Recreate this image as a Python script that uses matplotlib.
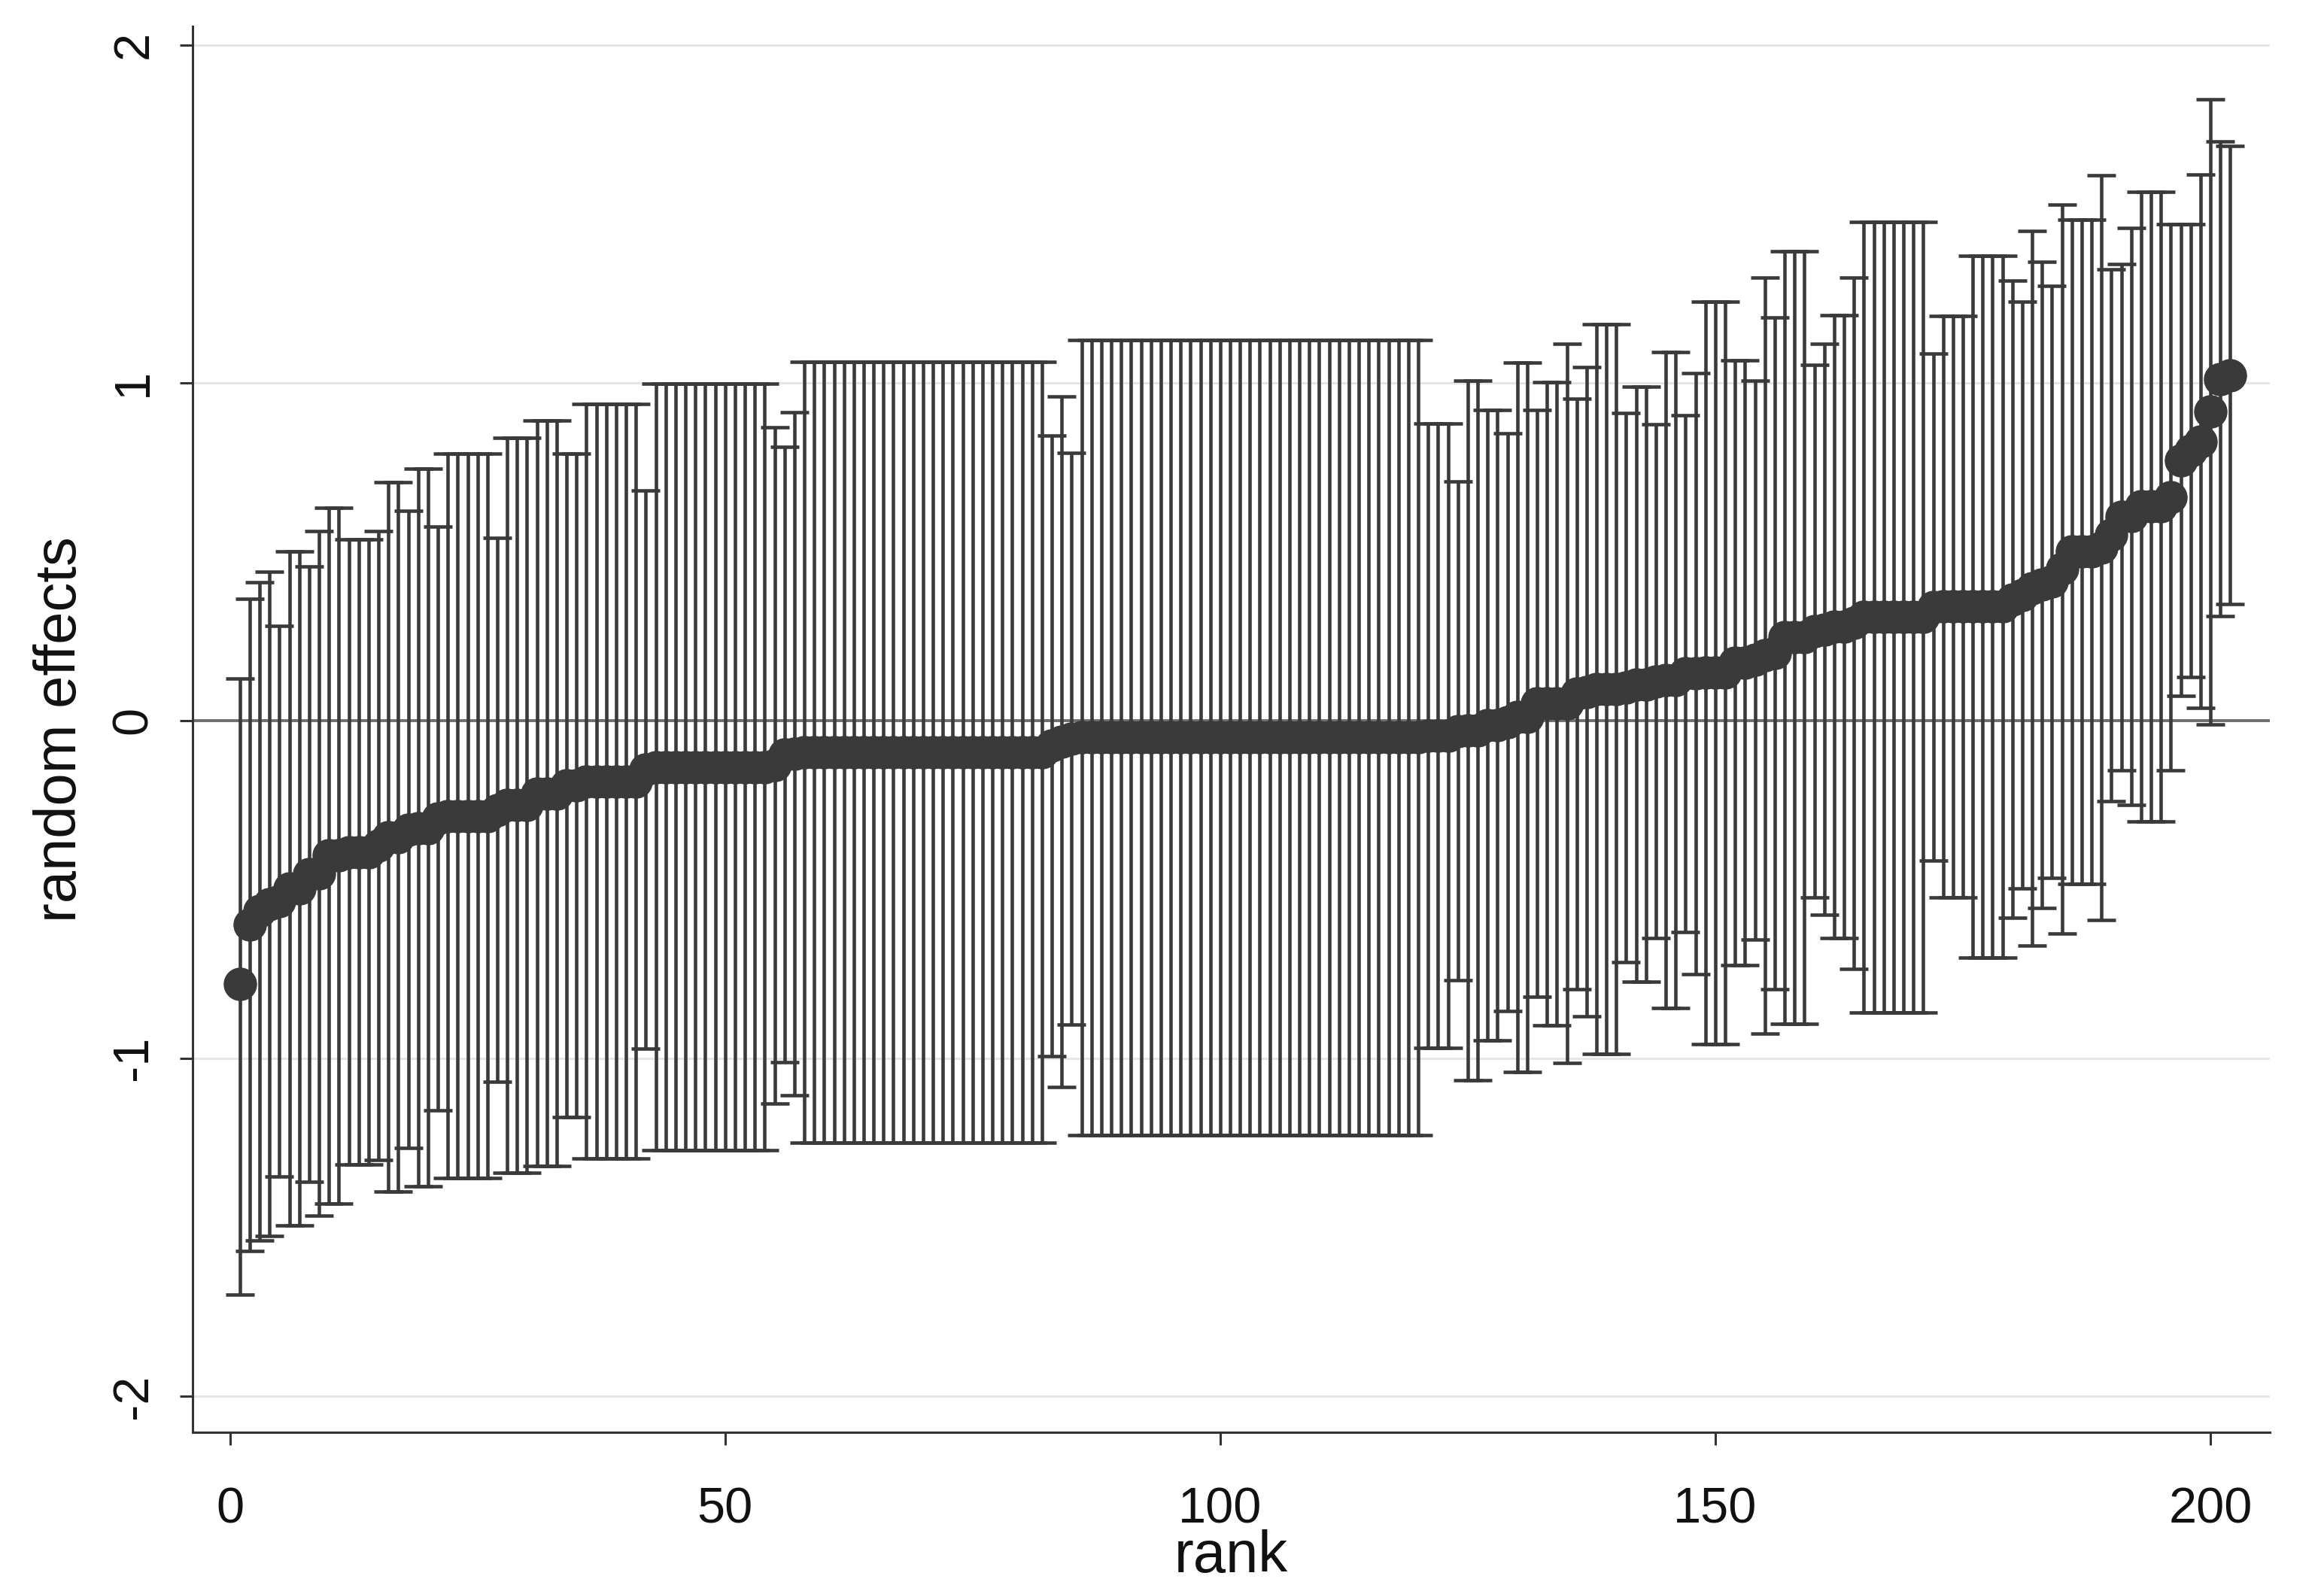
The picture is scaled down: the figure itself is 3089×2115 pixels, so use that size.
import matplotlib
matplotlib.use("Agg")
import matplotlib.pyplot as plt

# rank of each random effect (x axis)
rank = list(range(1, 203))

# upper 95% bound
upper = [
    0.125, 0.36, 0.41, 0.44, 0.28, 0.50, 0.50, 0.455, 0.56, 0.63,
    0.63, 0.535, 0.535, 0.535, 0.56, 0.705, 0.705, 0.62, 0.745, 0.745,
    0.575, 0.79, 0.79, 0.79, 0.79, 0.79, 0.54, 0.837, 0.837, 0.837,
    0.888, 0.888, 0.888, 0.789, 0.789, 0.938, 0.938, 0.938, 0.938, 0.938,
    0.938, 0.68, 0.996, 0.996, 0.996, 0.996, 0.996, 0.996, 0.996, 0.996,
    0.996, 0.996, 0.996, 0.996, 0.867, 0.81, 0.912, 1.062, 1.062, 1.062,
    1.062, 1.062, 1.062, 1.062, 1.062, 1.062, 1.062, 1.062, 1.062, 1.062,
    1.062, 1.062, 1.062, 1.062, 1.062, 1.062, 1.062, 1.062, 1.062, 1.062,
    1.062, 1.062, 0.844, 0.959, 0.793, 1.127, 1.127, 1.127, 1.127, 1.127,
    1.127, 1.127, 1.127, 1.127, 1.127, 1.127, 1.127, 1.127, 1.127, 1.127,
    1.127, 1.127, 1.127, 1.127, 1.127, 1.127, 1.127, 1.127, 1.127, 1.127,
    1.127, 1.127, 1.127, 1.127, 1.127, 1.127, 1.127, 1.127, 1.127, 1.127,
    0.88, 0.88, 0.88, 0.708, 1.005, 1.005, 0.918, 0.918, 0.851, 1.059,
    1.059, 0.918, 1.001, 1.001, 1.114, 0.952, 1.045, 1.174, 1.174, 1.174,
    0.911, 0.988, 0.988, 0.876, 1.091, 1.091, 0.904, 1.028, 1.239, 1.239,
    1.239, 1.066, 1.066, 1.006, 1.311, 1.192, 1.388, 1.388, 1.388, 1.053,
    1.114, 1.20, 1.20, 1.312, 1.475, 1.475, 1.475, 1.475, 1.475, 1.475,
    1.475, 1.086, 1.198, 1.198, 1.198, 1.375, 1.375, 1.375, 1.375, 1.301,
    1.239, 1.448, 1.357, 1.287, 1.527, 1.482, 1.482, 1.482, 1.613, 1.336,
    1.351, 1.459, 1.564, 1.564, 1.564, 1.469, 1.469, 1.469, 1.615, 1.839,
    1.714, 1.70,
]

# lower 95% bound
lower = [
    -1.70, -1.57, -1.54, -1.525, -1.35, -1.495, -1.495, -1.365, -1.465, -1.43,
    -1.43, -1.315, -1.315, -1.315, -1.30, -1.395, -1.395, -1.265, -1.38, -1.38,
    -1.155, -1.355, -1.355, -1.355, -1.355, -1.355, -1.07, -1.338, -1.338, -1.338,
    -1.319, -1.319, -1.319, -1.174, -1.174, -1.297, -1.297, -1.297, -1.297, -1.297,
    -1.297, -0.972, -1.272, -1.272, -1.272, -1.272, -1.272, -1.272, -1.272, -1.272,
    -1.272, -1.272, -1.272, -1.272, -1.133, -1.011, -1.109, -1.25, -1.25, -1.25,
    -1.25, -1.25, -1.25, -1.25, -1.25, -1.25, -1.25, -1.25, -1.25, -1.25,
    -1.25, -1.25, -1.25, -1.25, -1.25, -1.25, -1.25, -1.25, -1.25, -1.25,
    -1.25, -1.25, -0.993, -1.086, -0.901, -1.227, -1.227, -1.227, -1.227, -1.227,
    -1.227, -1.227, -1.227, -1.227, -1.227, -1.227, -1.227, -1.227, -1.227, -1.227,
    -1.227, -1.227, -1.227, -1.227, -1.227, -1.227, -1.227, -1.227, -1.227, -1.227,
    -1.227, -1.227, -1.227, -1.227, -1.227, -1.227, -1.227, -1.227, -1.227, -1.227,
    -0.969, -0.969, -0.969, -0.769, -1.065, -1.065, -0.947, -0.947, -0.86, -1.04,
    -1.04, -0.817, -0.902, -0.902, -1.014, -0.795, -0.876, -0.986, -0.986, -0.986,
    -0.715, -0.774, -0.774, -0.645, -0.851, -0.851, -0.627, -0.75, -0.958, -0.958,
    -0.958, -0.725, -0.725, -0.648, -0.926, -0.795, -0.897, -0.897, -0.897, -0.523,
    -0.576, -0.645, -0.645, -0.735, -0.864, -0.864, -0.864, -0.864, -0.864, -0.864,
    -0.864, -0.414, -0.523, -0.523, -0.523, -0.701, -0.701, -0.701, -0.701, -0.584,
    -0.497, -0.667, -0.554, -0.466, -0.63, -0.483, -0.483, -0.483, -0.591, -0.239,
    -0.148, -0.249, -0.298, -0.298, -0.298, -0.148, 0.073, 0.128, 0.037, -0.012,
    0.308, 0.344,
]

# point estimates (the dots)
estimate = [
    -0.78, -0.605, -0.565, -0.543, -0.535, -0.498, -0.498, -0.455, -0.453, -0.40,
    -0.40, -0.39, -0.39, -0.39, -0.37, -0.345, -0.345, -0.323, -0.318, -0.318,
    -0.29, -0.283, -0.283, -0.283, -0.283, -0.283, -0.265, -0.251, -0.251, -0.251,
    -0.216, -0.216, -0.216, -0.193, -0.193, -0.18, -0.18, -0.18, -0.18, -0.18,
    -0.18, -0.146, -0.138, -0.138, -0.138, -0.138, -0.138, -0.138, -0.138, -0.138,
    -0.138, -0.138, -0.138, -0.138, -0.133, -0.10, -0.099, -0.094, -0.094, -0.094,
    -0.094, -0.094, -0.094, -0.094, -0.094, -0.094, -0.094, -0.094, -0.094, -0.094,
    -0.094, -0.094, -0.094, -0.094, -0.094, -0.094, -0.094, -0.094, -0.094, -0.094,
    -0.094, -0.094, -0.075, -0.064, -0.054, -0.05, -0.05, -0.05, -0.05, -0.05,
    -0.05, -0.05, -0.05, -0.05, -0.05, -0.05, -0.05, -0.05, -0.05, -0.05,
    -0.05, -0.05, -0.05, -0.05, -0.05, -0.05, -0.05, -0.05, -0.05, -0.05,
    -0.05, -0.05, -0.05, -0.05, -0.05, -0.05, -0.05, -0.05, -0.05, -0.05,
    -0.045, -0.045, -0.045, -0.031, -0.03, -0.03, -0.015, -0.015, -0.005, 0.01,
    0.01, 0.05, 0.05, 0.05, 0.05, 0.079, 0.085, 0.094, 0.094, 0.094,
    0.098, 0.107, 0.107, 0.116, 0.12, 0.12, 0.139, 0.139, 0.141, 0.141,
    0.141, 0.171, 0.171, 0.179, 0.193, 0.199, 0.246, 0.246, 0.246, 0.265,
    0.269, 0.278, 0.278, 0.289, 0.306, 0.306, 0.306, 0.306, 0.306, 0.306,
    0.306, 0.336, 0.338, 0.338, 0.338, 0.339, 0.339, 0.339, 0.339, 0.359,
    0.371, 0.391, 0.402, 0.411, 0.449, 0.50, 0.50, 0.50, 0.511, 0.549,
    0.602, 0.605, 0.633, 0.633, 0.633, 0.661, 0.771, 0.799, 0.826, 0.914,
    1.011, 1.022,
]

x_ticks = [0, 50, 100, 150, 200]
y_ticks = [-2, -1, 0, 1, 2]

plt.rcParams['font.family'] = ['Liberation Sans', 'DejaVu Sans']

dark = '#3a3a3a'

fig = plt.figure(figsize=(30.89, 21.15), dpi=100)
ax = fig.add_axes([0.083, 0.0998, 0.8937, 0.8837])

# light grid lines and the zero reference line
for yv in y_ticks:
    if yv != 0:
        ax.axhline(yv, color='#e6e6e6', linewidth=2.2, zorder=0)
ax.axhline(0, color='#6e6e6e', linewidth=2.8, zorder=1)

yerr = [[e - lo for e, lo in zip(estimate, lower)],
        [up - e for e, up in zip(estimate, upper)]]
ax.errorbar(rank, estimate, yerr=yerr, fmt='none', ecolor=dark,
            elinewidth=3.3, capsize=14, capthick=3.3, zorder=2)
ax.plot(rank, estimate, 'o', color=dark, markersize=32,
        markeredgewidth=0, zorder=3)

ax.set_xlim(-3.74, 206.0)
ax.set_ylim(-2.107, 2.055)
ax.set_xticks(x_ticks)
ax.set_yticks(y_ticks)
ax.set_yticklabels([str(v) for v in y_ticks], rotation=90, va='center')

ax.tick_params(axis='both', direction='out', length=12, width=2.2,
               color='#333333', labelsize=48, labelcolor='#111111')
ax.tick_params(axis='x', pad=40)
ax.tick_params(axis='y', pad=22)

for side in ['top', 'right']:
    ax.spines[side].set_visible(False)
for side in ['left', 'bottom']:
    ax.spines[side].set_color('#333333')
    ax.spines[side].set_linewidth(2.2)

ax.set_xlabel('rank', fontsize=56, color='#111111', labelpad=-4)
ax.set_ylabel('random effects', fontsize=56, color='#111111', labelpad=22)

fig.savefig('out.png', dpi=100, facecolor='white')
